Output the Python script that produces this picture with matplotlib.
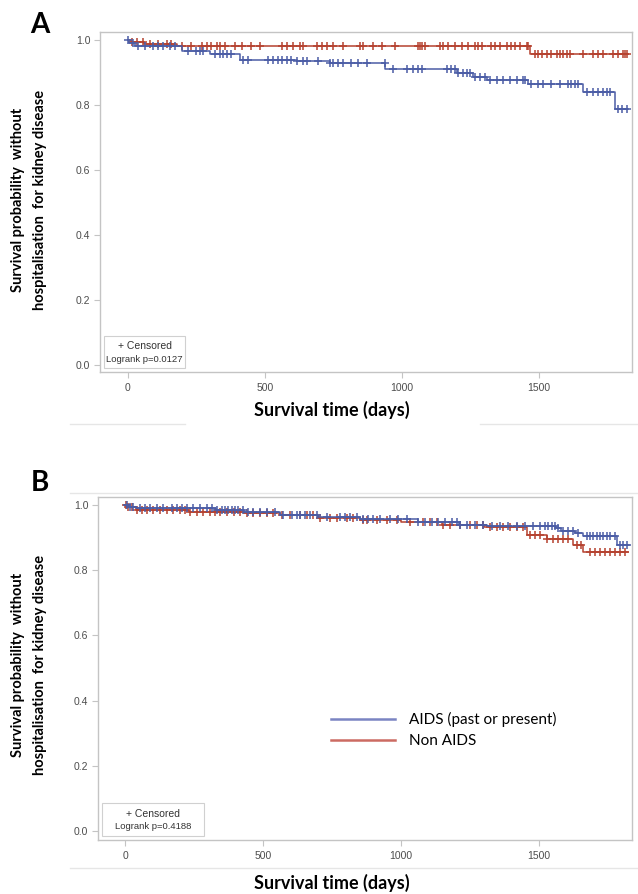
import matplotlib
matplotlib.use("Agg")
import matplotlib.pyplot as plt
from matplotlib.lines import Line2D
from matplotlib.patches import Rectangle
import numpy as np

# ---------------- data ----------------
# Panel A: step functions (time in days, survival probability)
a_blue_t = [0, 5, 25, 197, 299, 409, 616, 737, 940, 1200, 1259, 1310, 1460, 1661, 1777, 1825]
a_blue_s = [1.0, 0.99, 0.981, 0.967, 0.957, 0.94, 0.935, 0.930, 0.911, 0.898, 0.887, 0.877, 0.865, 0.841, 0.787, 0.787]
a_red_t = [0, 10, 60, 180, 1467, 1822]
a_red_s = [1.0, 0.993, 0.987, 0.981, 0.957, 0.957]

a_blue_cens = [1, 20, 38, 62, 92, 111, 129, 153, 172, 220, 250, 263, 275, 318, 336, 348, 360, 378,
               421, 439, 512, 530, 549, 561, 579, 597, 616, 640, 652, 695, 737, 749, 768, 786, 816,
               841, 871, 938, 968, 1017, 1041, 1060, 1072, 1163, 1181, 1194, 1206, 1224, 1236, 1248,
               1267, 1285, 1303, 1321, 1346, 1370, 1394, 1419, 1443, 1449, 1473, 1498, 1516, 1546,
               1577, 1607, 1619, 1632, 1644, 1674, 1699, 1717, 1735, 1747, 1759, 1790, 1802, 1820]
a_red_cens = [13, 32, 56, 80, 111, 141, 159, 196, 232, 269, 287, 305, 324, 336, 354, 391, 415, 451,
              482, 561, 579, 604, 628, 640, 689, 707, 725, 749, 786, 847, 859, 895, 926, 975, 1060,
              1066, 1072, 1084, 1139, 1151, 1169, 1194, 1218, 1242, 1267, 1279, 1291, 1327, 1340,
              1358, 1382, 1400, 1413, 1431, 1455, 1461, 1486, 1498, 1510, 1528, 1546, 1565, 1577,
              1589, 1601, 1613, 1662, 1699, 1717, 1735, 1771, 1790, 1808, 1815, 1820]

# Panel B
b_blue_t = [0, 15, 40, 330, 430, 560, 700, 850, 1060, 1210, 1310, 1560, 1580, 1630, 1660, 1781, 1825]
b_blue_s = [1.0, 0.995, 0.99, 0.985, 0.978, 0.970, 0.963, 0.956, 0.948, 0.940, 0.935, 0.930, 0.921,
            0.913, 0.905, 0.877, 0.877]
b_red_t = [0, 10, 40, 230, 430, 560, 700, 850, 1000, 1150, 1300, 1455, 1528, 1624, 1660, 1822]
b_red_s = [1.0, 0.993, 0.985, 0.980, 0.975, 0.970, 0.962, 0.955, 0.948, 0.940, 0.933, 0.908, 0.895,
           0.877, 0.857, 0.857]

b_blue_cens = [6, 18, 30, 54, 72, 91, 115, 139, 169, 187, 205, 223, 248, 272, 296, 314, 332, 350,
               362, 374, 386, 399, 411, 429, 447, 465, 489, 513, 543, 574, 604, 622, 634, 652, 670,
               694, 731, 779, 797, 815, 839, 863, 882, 900, 924, 960, 990, 1020, 1063, 1087, 1111,
               1135, 1159, 1184, 1202, 1214, 1238, 1268, 1298, 1329, 1359, 1389, 1419, 1449, 1479,
               1503, 1522, 1534, 1546, 1558, 1570, 1588, 1606, 1624, 1642, 1673, 1685, 1697, 1709,
               1721, 1733, 1745, 1757, 1775, 1793, 1805, 1818]
b_red_cens = [4, 12, 24, 42, 60, 79, 103, 127, 151, 175, 199, 217, 236, 260, 284, 308, 326, 344,
              368, 393, 417, 441, 465, 489, 513, 537, 568, 598, 634, 658, 682, 707, 743, 767, 803,
              827, 863, 876, 912, 948, 984, 1033, 1081, 1105, 1129, 1153, 1177, 1214, 1250, 1274,
              1298, 1322, 1347, 1371, 1395, 1419, 1443, 1467, 1485, 1503, 1528, 1552, 1570, 1588,
              1606, 1636, 1654, 1685, 1703, 1721, 1739, 1757, 1775, 1793, 1811]

x_ticks = [0, 500, 1000, 1500]
y_ticks = [0.0, 0.2, 0.4, 0.6, 0.8, 1.0]
y_tick_labels = ["0.0", "0.2", "0.4", "0.6", "0.8", "1.0"]
group_labels = ["AIDS (past or present)", "Non AIDS"]
logrank_a = "Logrank p=0.0127"
logrank_b = "Logrank p=0.4188"

BLUE = "#4b5da6"
RED = "#b5412f"
FRAME = "#c4c4c4"
TICKC = "#4d4d4d"

W, H = 638, 894
fig = plt.figure(figsize=(W / 100, H / 100), dpi=100)

LABEL_FONT = ["Lato", "DejaVu Sans"]
TICK_FONT = ["Liberation Sans", "DejaVu Sans"]


def surv_at(ts, ss, t):
    idx = np.searchsorted(ts, t, side="right") - 1
    return np.asarray(ss)[idx]


def draw_panel(rect, xlim, ylim, blue_t, blue_s, red_t, red_s, blue_c, red_c, logrank, box_w):
    ax = fig.add_axes(rect)
    for t, s, c, col, z in ((red_t, red_s, red_c, RED, 3), (blue_t, blue_s, blue_c, BLUE, 4)):
        ax.step(t, s, where="post", color=col, lw=1.1, zorder=z)
        cs = surv_at(t, s, np.array(c))
        ax.plot(c, cs, linestyle="none", marker="+", color=col, ms=5.5, mew=1.1, zorder=z)
    ax.set_xlim(*xlim)
    ax.set_ylim(*ylim)
    ax.set_xticks(x_ticks)
    ax.set_xticklabels([str(v) for v in x_ticks])
    ax.set_yticks(y_ticks)
    ax.set_yticklabels(y_tick_labels)
    for sp in ax.spines.values():
        sp.set_color(FRAME)
        sp.set_linewidth(1.0)
    ax.tick_params(axis="both", colors=FRAME, labelcolor=TICKC, length=4, width=0.8,
                   labelsize=7.5)
    ax.tick_params(axis="x", pad=4)
    ax.tick_params(axis="y", pad=3)
    for lab in ax.get_xticklabels() + ax.get_yticklabels():
        lab.set_family(TICK_FONT)
    # censored / logrank box
    ax.add_patch(Rectangle((0.008, 0.012), box_w, 0.095, transform=ax.transAxes,
                           facecolor="white", edgecolor="#d0d0d0", lw=0.8, zorder=5))
    ax.text(0.008 + box_w / 2, 0.077, "+ Censored", transform=ax.transAxes, ha="center",
            va="center", fontsize=7.5, color="#333333", family=TICK_FONT, zorder=6)
    ax.text(0.008 + box_w / 2, 0.038, logrank, transform=ax.transAxes, ha="center",
            va="center", fontsize=6.8, color="#333333", family=TICK_FONT, zorder=6)
    return ax


# Panel A
axA = draw_panel([100 / W, 1 - 372 / H, 532 / W, 340 / H], (-102, 1840), (-0.022, 1.025),
                 a_blue_t, a_blue_s, a_red_t, a_red_s, a_blue_cens, a_red_cens, logrank_a, 0.152)
# Panel B
axB = draw_panel([98 / W, 1 - 840 / H, 534 / W, 343 / H], (-98, 1837), (-0.028, 1.025),
                 b_blue_t, b_blue_s, b_red_t, b_red_s, b_blue_cens, b_red_cens, logrank_b, 0.19)

# Legend in B
leg_handles = [Line2D([0], [0], color="#7a84c2", lw=1.8), Line2D([0], [0], color="#cc6b62", lw=1.8)]
axB.legend(leg_handles, group_labels, loc="center left", bbox_to_anchor=(0.41, 0.321),
           frameon=False, handlelength=4.2, handletextpad=0.9, labelspacing=0.45,
           prop={"family": LABEL_FONT, "size": 11})

# Panel letters
fig.text(40 / W, 1 - 25 / H, "A", fontsize=20, fontweight="bold", family=LABEL_FONT,
         ha="center", va="center")
fig.text(40 / W, 1 - 483 / H, "B", fontsize=20, fontweight="bold", family=LABEL_FONT,
         ha="center", va="center")

# Y labels
for yc in (200, 665):
    fig.text(18 / W, 1 - yc / H, "Survival probability  without", rotation=90, fontsize=10.5,
             fontweight="bold", family=LABEL_FONT, ha="center", va="center")
    fig.text(40 / W, 1 - yc / H, "hospitalisation  for kidney disease", rotation=90,
             fontsize=10.5, fontweight="bold", family=LABEL_FONT, ha="center", va="center")

# X labels
fig.text(332 / W, 1 - 410 / H, "Survival time (days)", fontsize=13, fontweight="bold",
         family=LABEL_FONT, ha="center", va="center")
fig.text(332 / W, 1 - 883 / H, "Survival time (days)", fontsize=13, fontweight="bold",
         family=LABEL_FONT, ha="center", va="center")

# faint separator lines
sep = "#e6e6e6"
fig.add_artist(Line2D([70 / W, 185 / W], [1 - 424 / H, 1 - 424 / H], color=sep, lw=1))
fig.add_artist(Line2D([480 / W, 1.0], [1 - 424 / H, 1 - 424 / H], color=sep, lw=1))
fig.add_artist(Line2D([70 / W, 1.0], [1 - 493 / H, 1 - 493 / H], color=sep, lw=1))
fig.add_artist(Line2D([70 / W, 1.0], [1 - 868 / H, 1 - 868 / H], color=sep, lw=1))

fig.savefig("out.png", dpi=100)
